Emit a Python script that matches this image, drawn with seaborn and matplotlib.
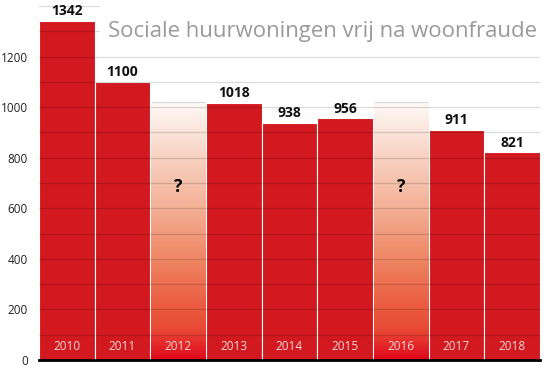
import numpy as np
import pandas as pd
import matplotlib
matplotlib.use("Agg")
import matplotlib.pyplot as plt
import seaborn as sns
from matplotlib.colors import LinearSegmentedColormap
from matplotlib.patches import Rectangle
import matplotlib.transforms as mtransforms

years = ["2010", "2011", "2012", "2013", "2014", "2015", "2016", "2017", "2018"]
values = [1342, 1100, np.nan, 1018, 938, 956, np.nan, 911, 821]
missing_height = 1020
title = "Sociale huurwoningen vrij na woonfraude"
yticks = [0, 200, 400, 600, 800, 1000, 1200]

sns.set_theme(style="white")
plt.rcParams["font.family"] = ["Open Sans", "DejaVu Sans"]

RED = "#d2191f"
df = pd.DataFrame({"year": years, "value": values})

fig = plt.figure(figsize=(5.5, 3.67), dpi=100)
ax = fig.add_axes([39 / 550, 1 - 360 / 367, 501 / 550, 354 / 367])

sns.barplot(data=df, x="year", y="value", color=RED, saturation=1, width=1.0,
            edgecolor="white", linewidth=0.8, ax=ax, zorder=1)

# gradient placeholders for missing years
cmap = LinearSegmentedColormap.from_list("ph", [
    (0.0, "#e0081a"), (0.06, "#e42a2a"), (0.12, "#e84a35"), (0.2, "#ea5a3e"),
    (0.4, "#ef8866"), (0.6, "#f4b298"), (0.8, "#f8d4c4"), (1.0, "#fffaf8")])
grad = np.linspace(0, 1, 256).reshape(-1, 1)
for i, v in enumerate(values):
    if np.isnan(v):
        ax.imshow(grad, cmap=cmap, origin="lower", aspect="auto",
                  extent=(i - 0.49, i + 0.49, 0, missing_height), zorder=1)
        ax.hlines(missing_height, i - 0.49, i + 0.49, color="#d8d8d8", lw=0.8, zorder=2)
        ax.text(i, 685, "?", ha="center", va="center", fontsize=12.5,
                fontweight="bold", color="black", zorder=6)
    else:
        ax.text(i, v + 10, f"{int(v)}", ha="center", va="bottom", fontsize=10,
                fontweight="bold", color="#111111", zorder=6)
    ax.text(i, 55, years[i], ha="center", va="center", fontsize=8.5,
            color="#f3d6d6", zorder=6)

ax.set_xlim(-0.5, len(years) - 0.5)
ax.set_ylim(0, 1400)
ax.set_yticks(yticks)
ax.set_yticklabels([str(t) for t in yticks], fontsize=8.5, color="#222222")
ax.set_yticks(np.arange(100, 1401, 100), minor=True)
ax.set_xticks([])
ax.set_xlabel("")
ax.set_ylabel("")
ax.tick_params(axis="y", which="both", length=0, pad=8)
ax.set_axisbelow(False)
ax.grid(axis="y", which="both", color="black", alpha=0.14, lw=0.9)
ax.grid(axis="x", visible=False)
for s in ["top", "right", "left"]:
    ax.spines[s].set_visible(False)
ax.spines["bottom"].set_color("black")
ax.spines["bottom"].set_linewidth(2)
ax.spines["bottom"].set_zorder(7)

# title with white backing box
ax.add_patch(Rectangle((0.596, 1245), 9, 200, facecolor="white", edgecolor="none",
                       zorder=4, clip_on=False))
ax.text(1.0 - 3 / 501, 1300, title,
        transform=mtransforms.blended_transform_factory(ax.transAxes, ax.transData),
        ha="right", va="center", fontsize=15.9, color="#9a9a9a", zorder=5)

fig.savefig("out.png", dpi=100)
